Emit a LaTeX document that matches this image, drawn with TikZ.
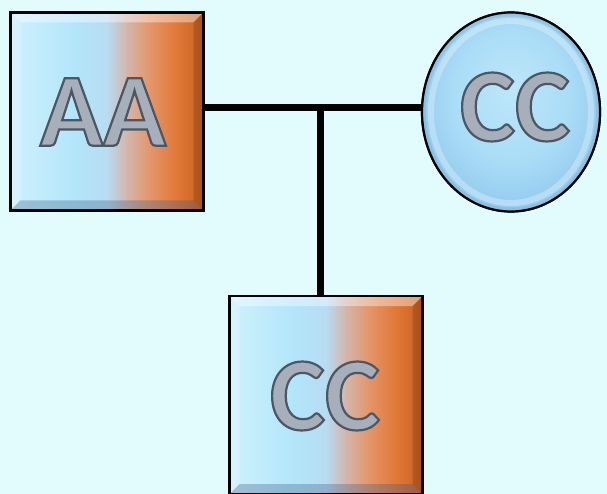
\documentclass[tikz,border=0pt]{standalone}
\usepackage{fontspec}
\setmainfont{Carlito}
\usetikzlibrary{shapes.geometric}
\definecolor{bgc}{HTML}{E2FCFD}
\definecolor{sa}{HTML}{CFF1FC}
\definecolor{sb}{HTML}{B2E5FA}
\definecolor{sc}{HTML}{B8DCF2}
\definecolor{sd}{HTML}{D4B6AC}
\definecolor{se}{HTML}{E4966A}
\definecolor{sf}{HTML}{E07838}
\definecolor{sg}{HTML}{C8601E}
\definecolor{ca}{HTML}{BDE6FA}
\definecolor{cb}{HTML}{ABDDF7}
\definecolor{cc}{HTML}{98CEEF}
\definecolor{txtfill}{HTML}{A6AFBA}
\definecolor{bevdark}{HTML}{3A5A80}
\pgfdeclarehorizontalshading{boxshade}{100bp}{color(0bp)=(sa); color(25bp)=(sa); color(42bp)=(sb); color(50bp)=(sc); color(55bp)=(sd); color(61bp)=(se); color(68bp)=(sf); color(75bp)=(sg); color(100bp)=(sg)}
\pgfdeclareradialshading{circshade}{\pgfpoint{0bp}{6bp}}{color(0bp)=(ca); color(16bp)=(cb); color(25bp)=(cc); color(50bp)=(cc)}
\tikzset{
  boxnode/.style={rectangle, draw=black, line width=2.2pt, shading=boxshade,
    minimum width=193pt, minimum height=198pt, inner sep=0pt,
    path picture={
      \fill[white, opacity=0.4] (path picture bounding box.north west) -- (path picture bounding box.north east)
        -- ([shift={(-10pt,-10pt)}]path picture bounding box.north east) -- ([shift={(10pt,-10pt)}]path picture bounding box.north west) -- cycle;
      \fill[white, opacity=0.2] (path picture bounding box.north west) -- ([shift={(10pt,-10pt)}]path picture bounding box.north west)
        -- ([shift={(10pt,10pt)}]path picture bounding box.south west) -- (path picture bounding box.south west) -- cycle;
      \fill[bevdark, opacity=0.32] (path picture bounding box.south west) -- (path picture bounding box.south east)
        -- ([shift={(-10pt,10pt)}]path picture bounding box.south east) -- ([shift={(10pt,10pt)}]path picture bounding box.south west) -- cycle;
      \fill[black, opacity=0.15] (path picture bounding box.north east) -- ([shift={(-10pt,-10pt)}]path picture bounding box.north east)
        -- ([shift={(-10pt,10pt)}]path picture bounding box.south east) -- (path picture bounding box.south east) -- cycle;
    }},
  circnode/.style={ellipse, draw=black, line width=2.2pt, shading=circshade,
    minimum width=178pt, minimum height=199pt, inner sep=0pt,
    path picture={
      \draw[white, opacity=0.3, line width=6pt] (path picture bounding box.center) ellipse [x radius=80pt, y radius=91pt];
      \draw[bevdark, opacity=0.12, line width=4pt] (path picture bounding box.center) ellipse [x radius=87pt, y radius=97.5pt];
    }},
  metal/.style={text=txtfill, inner sep=0pt, font=\bfseries\fontsize{104}{104}\selectfont},
  conn/.style={line width=7pt, draw=black},
}
\newcommand{\outlined}[1]{\special{pdf:literal direct 2 Tr 2.2 w 0.30 0.34 0.39 RG}#1\special{pdf:literal direct 0 Tr}}
\begin{document}
\begin{tikzpicture}[x=1pt, y=-1pt]
\fill[bgc] (0,0) rectangle (607,494);
\useasboundingbox (0,0) rectangle (607,494);
\coordinate (j) at (320,108);
\node[boxnode] (aa) at (107,111.5) {};
\node[circnode] (cc1) at (511,112) {};
\node[boxnode] (cc2) at (326,395) {};
\draw[conn] (aa.east |- j) -- (j) -- (cc1.west |- j);
\draw[conn] (j) -- (j |- cc2.north);
\node[boxnode] at (aa) {};
\node[circnode] at (cc1) {};
\node[boxnode] at (cc2) {};
\node[metal] (aatext) at (103,112) {\outlined{AA}};
\node[metal] (cc1text) at (515,107) {\outlined{CC}};
\node[metal] (cc2text) at (325,396) {\outlined{CC}};
\end{tikzpicture}
\end{document}
